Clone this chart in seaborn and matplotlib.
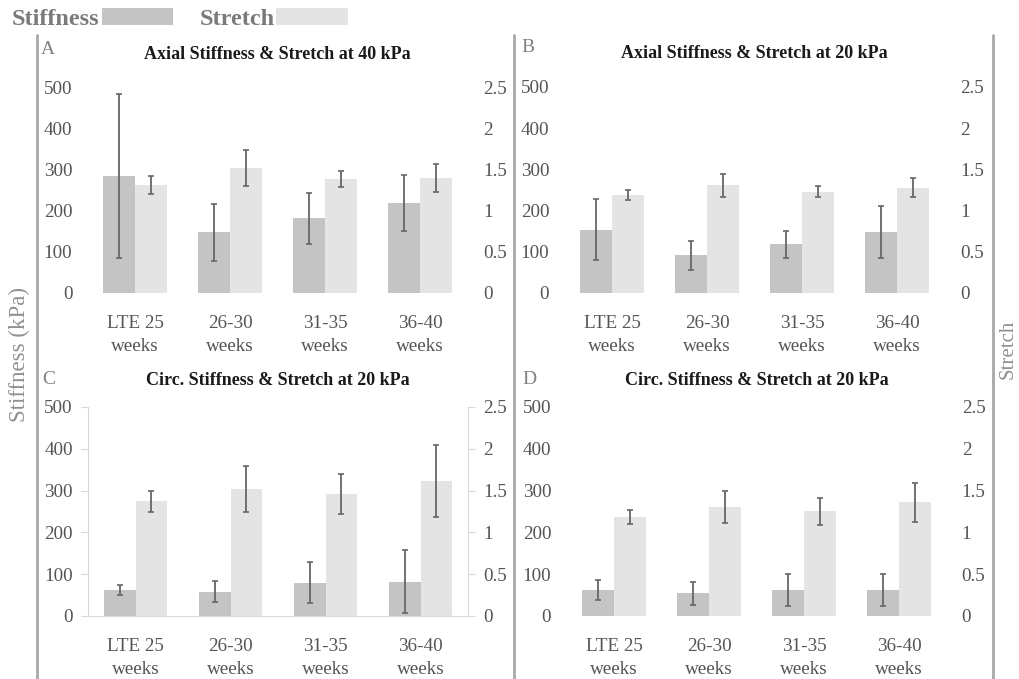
"""Axial / circumferential stiffness and stretch by gestational age."""

import matplotlib

matplotlib.use("Agg")
import matplotlib.pyplot as plt
from matplotlib.lines import Line2D
import pandas as pd
import seaborn as sns

groups = ["LTE 25\nweeks", "26-30\nweeks", "31-35\nweeks", "36-40\nweeks"]
measures = ["Stiffness", "Stretch"]

# panel A: axial at 40 kPa
stiff_a = [285, 148, 182, 220]
stiff_a_err = [200, 70, 63, 69]
stretch_a = [1.32, 1.52, 1.39, 1.40]
stretch_a_err = [0.11, 0.22, 0.10, 0.17]

# panel B: axial at 20 kPa
stiff_b = [154, 92, 118, 148]
stiff_b_err = [74, 35, 33, 64]
stretch_b = [1.19, 1.31, 1.23, 1.28]
stretch_b_err = [0.06, 0.14, 0.07, 0.12]

# panel C: circ. at 20 kPa
stiff_c = [62, 58, 79, 82]
stiff_c_err = [12, 25, 49, 75]
stretch_c = [1.37, 1.52, 1.46, 1.62]
stretch_c_err = [0.13, 0.28, 0.24, 0.43]

# panel D: circ. at 20 kPa
stiff_d = [62, 54, 62, 62]
stiff_d_err = [23, 28, 39, 39]
stretch_d = [1.18, 1.30, 1.25, 1.36]
stretch_d_err = [0.085, 0.19, 0.16, 0.23]

stiff_ticks = [0, 100, 200, 300, 400, 500]
stretch_ticks = [0, 0.5, 1, 1.5, 2, 2.5]
stretch_labels = ["0", "0.5", "1", "1.5", "2", "2.5"]

colors = {"Stiffness": "#c4c4c4", "Stretch": "#e4e4e4"}

sns.set_style("white")
plt.rcParams["font.family"] = ["Liberation Serif", "DejaVu Serif"]

TICK_COLOR = "#555555"
SPINE_COLOR = "#d9d9d9"
FS = 13.8


def bar_container(ax):
    # seaborn leaves an empty container for the hue level that has no rows
    return [c for c in ax.containers if len(c)][0]


def draw_panel(ax, stiff, stiff_err, stretch, stretch_err, title,
               framed=False, title_pad=20):
    df_s = pd.DataFrame({"group": groups, "value": stiff, "measure": "Stiffness"})
    df_t = pd.DataFrame({"group": groups, "value": stretch, "measure": "Stretch"})

    sns.barplot(data=df_s, x="group", y="value", hue="measure", hue_order=measures,
                palette=colors, width=0.67, dodge=True, errorbar=None,
                linewidth=0, legend=False, ax=ax)
    ax2 = ax.twinx()
    sns.barplot(data=df_t, x="group", y="value", hue="measure", hue_order=measures,
                palette=colors, width=0.67, dodge=True, errorbar=None,
                linewidth=0, legend=False, ax=ax2)

    bars_s = bar_container(ax)
    bars_t = bar_container(ax2)
    for a, bars, errs in ((ax, bars_s, stiff_err), (ax2, bars_t, stretch_err)):
        for bar, err in zip(bars, errs):
            a.errorbar(bar.get_x() + bar.get_width() / 2, bar.get_height(), yerr=err,
                       color="#666666", elinewidth=1.3, capsize=2.5, capthick=1.2,
                       zorder=5)

    ax.set_xlim(-0.5, 3.5)
    ax2.set_xlim(-0.5, 3.5)
    ax.set_ylim(0, 500)
    ax2.set_ylim(0, 2.5)
    ax.set_yticks(stiff_ticks)
    ax2.set_yticks(stretch_ticks)
    ax2.set_yticklabels(stretch_labels)
    ax.set_xlabel("")
    ax.set_ylabel("")
    ax2.set_xlabel("")
    ax2.set_ylabel("")
    ax.tick_params(axis="x", labelsize=FS, colors=TICK_COLOR, length=0, pad=16)
    ax.tick_params(axis="y", labelsize=FS, colors=TICK_COLOR, length=0, pad=11)
    ax2.tick_params(axis="y", labelsize=FS, colors=TICK_COLOR, length=0, pad=11)
    for lbl in ax.get_xticklabels():
        lbl.set_linespacing(1.45)

    for a in (ax, ax2):
        for sp in a.spines.values():
            sp.set_visible(False)

    if framed:
        for side in ("left", "bottom"):
            ax.spines[side].set_visible(True)
            ax.spines[side].set_color(SPINE_COLOR)
        ax2.spines["right"].set_visible(True)
        ax2.spines["right"].set_color(SPINE_COLOR)
        ax.tick_params(axis="y", length=5, color=SPINE_COLOR, pad=6)
        ax2.tick_params(axis="y", length=5, color=SPINE_COLOR, pad=6)
        ax.set_xticks([-0.5, 0.5, 1.5, 2.5, 3.5], minor=True)
        ax.tick_params(axis="x", which="minor", length=5, color=SPINE_COLOR)

    ax.set_title(title, fontsize=13, fontweight="bold", color="#1a1a1a",
                 pad=title_pad)
    return bars_s, bars_t


fig = plt.figure(figsize=(10.19, 6.79), dpi=100)

ax_a = fig.add_axes([0.0859, 0.5685, 0.3729, 0.3019])
ax_b = fig.add_axes([0.5540, 0.5685, 0.3729, 0.3034])
ax_c = fig.add_axes([0.0864, 0.0928, 0.3729, 0.3078])
ax_d = fig.add_axes([0.5559, 0.0928, 0.3729, 0.3078])

handles = draw_panel(ax_a, stiff_a, stiff_a_err, stretch_a, stretch_a_err,
                     "Axial Stiffness & Stretch at 40 kPa", title_pad=21)
draw_panel(ax_b, stiff_b, stiff_b_err, stretch_b, stretch_b_err,
           "Axial Stiffness & Stretch at 20 kPa", title_pad=21)
draw_panel(ax_c, stiff_c, stiff_c_err, stretch_c, stretch_c_err,
           "Circ. Stiffness & Stretch at 20 kPa", framed=True, title_pad=16)
draw_panel(ax_d, stiff_d, stiff_d_err, stretch_d, stretch_d_err,
           "Circ. Stiffness & Stretch at 20 kPa", title_pad=16)

# panel letters
for letter, (x, y) in {"A": (41, 50), "B": (521, 47), "C": (42, 380), "D": (522, 380)}.items():
    fig.text(x / 1019, 1 - y / 679, letter, fontsize=14, color="#808080",
             va="center", ha="left")

# separators
for x in (37, 514, 993):
    fig.add_artist(Line2D([x / 1019, x / 1019], [1 - 35 / 679, 0], color="#a8a8a8",
                          lw=2, transform=fig.transFigure))

fig.text(19 / 1019, 1 - 355 / 679, "Stiffness (kPa)", rotation=90, fontsize=16.5,
         color="#909090", ha="center", va="center")
fig.text(1008 / 1019, 1 - 349 / 679, "Stretch", rotation=90, fontsize=15,
         color="#909090", ha="center", va="center")

fig.legend(list(handles), measures, loc="upper left",
           bbox_to_anchor=(12 / 1019, 1 - 8 / 679), ncol=2, frameon=False,
           markerfirst=False, handlelength=2.95, handleheight=0.7,
           handletextpad=0.08, columnspacing=1.07, borderpad=0, borderaxespad=0,
           prop={"weight": "bold", "size": 17.5}, labelcolor="#7a7a7a")

fig.savefig("out.png", dpi=100)
